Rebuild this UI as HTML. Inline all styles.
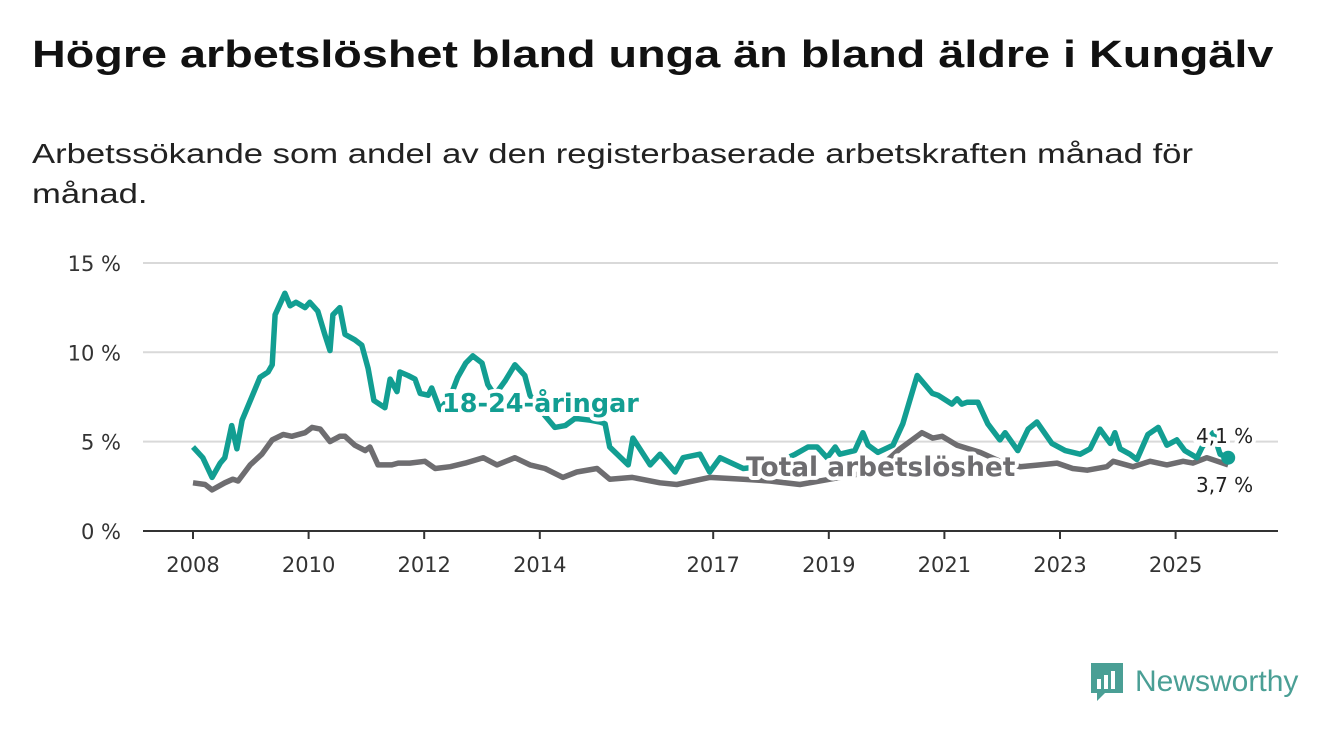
<!DOCTYPE html>
<html><head><meta charset="utf-8"><style>
body{margin:0;background:#fff;width:1340px;height:734px;overflow:hidden;font-family:"Liberation Sans",sans-serif}
#t{position:absolute;left:32px;top:34px;font-size:38px;font-weight:bold;color:#111;margin:0;white-space:nowrap;transform:scaleX(1.23);transform-origin:0 0}
#s{position:absolute;left:32px;top:134px;font-size:28px;color:#222;line-height:40px;white-space:nowrap;transform:scaleX(1.237);transform-origin:0 0}
</style></head><body>
<h1 id="t">Högre arbetslöshet bland unga än bland äldre i Kungälv</h1>
<div id="s">Arbetssökande som andel av den registerbaserade arbetskraften månad för<br>månad.</div>
<svg id="c" width="1340" height="734" style="position:absolute;left:0;top:0"></svg>
<script>
const yTicks=[0,5,10,15];
const xTickYears=[2008,2010,2012,2014,2017,2019,2021,2023,2025];
const youthYears=[0,.17,.33,.47,.55,.67,.76,.85,1.07,1.16,1.30,1.37,1.42,1.59,1.68,1.78,1.94,2.02,2.16,2.28,2.37,2.42,2.54,2.63,2.80,2.92,3.03,3.13,3.32,3.41,3.53,3.58,3.72,3.84,3.93,4.07,4.13,4.27,4.45,4.58,4.72,4.84,5.00,5.10,5.22,5.40,5.57,5.74,5.83,6.00,6.26,6.44,6.61,6.87,7.04,7.13,7.21,7.53,7.61,7.91,8.08,8.34,8.48,8.77,8.94,9.12,9.52,9.81,10.16,10.42,10.64,10.80,10.97,11.11,11.19,11.45,11.59,11.68,11.85,12.11,12.28,12.53,12.79,12.89,13.13,13.22,13.30,13.39,13.58,13.75,13.96,14.05,14.27,14.45,14.60,14.86,15.09,15.35,15.52,15.69,15.87,15.95,16.04,16.21,16.33,16.52,16.70,16.85,17.02,17.16,17.37,17.46,17.65,17.77,17.91];
const youthValues=[4.7,4.1,3.0,3.8,4.1,5.9,4.6,6.2,7.9,8.6,8.9,9.3,12.1,13.3,12.6,12.8,12.5,12.8,12.3,11.0,10.1,12.1,12.5,11.0,10.7,10.4,9.1,7.3,6.9,8.5,7.8,8.9,8.7,8.5,7.7,7.6,8.0,6.8,7.5,8.6,9.4,9.8,9.4,8.2,7.6,8.4,9.3,8.7,7.6,6.8,5.8,5.9,6.3,6.2,6.1,6.0,4.7,3.7,5.2,3.7,4.3,3.3,4.1,4.3,3.3,4.1,3.5,3.6,3.9,4.3,4.7,4.7,4.1,4.7,4.3,4.5,5.5,4.8,4.4,4.8,6.0,8.7,7.7,7.6,7.1,7.4,7.1,7.2,7.2,6.0,5.1,5.5,4.5,5.7,6.1,4.9,4.5,4.3,4.6,5.7,4.9,5.5,4.6,4.3,4.0,5.4,5.8,4.8,5.1,4.5,4.1,4.7,5.5,4.3,4.1];
const totalYears=[0,.21,.33,.55,.69,.78,.99,1.19,1.37,1.56,1.71,1.94,2.06,2.20,2.37,2.54,2.63,2.80,2.98,3.06,3.20,3.44,3.55,3.75,4.01,4.19,4.45,4.71,5.02,5.26,5.57,5.83,6.09,6.40,6.64,6.99,7.21,7.60,8.08,8.37,8.94,9.52,9.98,10.50,11.02,11.54,11.89,12.23,12.61,12.80,12.96,13.22,13.62,13.96,14.31,14.65,14.95,15.22,15.47,15.81,15.92,16.26,16.56,16.85,17.13,17.30,17.54,17.91];
const totalValues=[2.7,2.6,2.3,2.7,2.9,2.8,3.7,4.3,5.1,5.4,5.3,5.5,5.8,5.7,5.0,5.3,5.3,4.8,4.5,4.7,3.7,3.7,3.8,3.8,3.9,3.5,3.6,3.8,4.1,3.7,4.1,3.7,3.5,3.0,3.3,3.5,2.9,3.0,2.7,2.6,3.0,2.9,2.8,2.6,2.9,3.2,3.6,4.6,5.5,5.2,5.3,4.8,4.4,3.9,3.6,3.7,3.8,3.5,3.4,3.6,3.9,3.6,3.9,3.7,3.9,3.8,4.1,3.7];
const NS='http://www.w3.org/2000/svg';
const svg=document.getElementById('c');
const X=o=>193+o*57.8, Y=v=>531-v*17.87;
const TF='"DejaVu Sans", sans-serif';
function el(tag,attrs,parent){const e=document.createElementNS(NS,tag);for(const k in attrs)e.setAttribute(k,attrs[k]);(parent||svg).appendChild(e);return e;}
yTicks.forEach(v=>{
  if(v>0){const g=el('line',{x1:143,x2:1278,y1:Y(v),y2:Y(v),stroke:'#d9d9d9','stroke-width':2});
  
  }
  const t=el('text',{x:121,y:Y(v)+8,'text-anchor':'end','font-size':21,fill:'#333','font-family':TF});
  t.textContent=v+' %';
  
  
});
const ax=el('line',{x1:143,x2:1278,y1:531,y2:531,stroke:'#333','stroke-width':2});


xTickYears.forEach(yr=>{
  const x=X(yr-2008);
  const tk=el('line',{x1:x,x2:x,y1:531,y2:539,stroke:'#333','stroke-width':2});
  
  
  const t=el('text',{x:x,y:572,'text-anchor':'middle','font-size':21,fill:'#333','font-family':TF});
  t.textContent=yr;
  
  
});
function path(xs,vs){return xs.map((o,i)=>(i?'L':'M')+X(o).toFixed(1)+','+Y(vs[i]).toFixed(1)).join('');}
const tl=el('path',{d:path(totalYears,totalValues),fill:'none',stroke:'#6e6d70','stroke-width':5.5,'stroke-linejoin':'round'});


const yl=el('path',{d:path(youthYears,youthValues),fill:'none',stroke:'#129e92','stroke-width':5.5,'stroke-linejoin':'round'});


const li=youthYears.length-1;
const dot=el('circle',{cx:X(youthYears[li]),cy:Y(youthValues[li]),r:7,fill:'#129e92'});


function label(txt,x,y,size,fill,bold,name,fam){
  const t=el('text',{x:x,y:y,'font-size':size,fill:fill,'font-weight':bold?'bold':'normal',stroke:'#fff','stroke-width':8,'paint-order':'stroke','stroke-linejoin':'round'});
  if(fam)t.setAttribute('font-family',fam);
  t.textContent=txt;
  
  
}
label('18-24-åringar',442,412,25.5,'#129e92',true,'youth-series-label',TF);
label('Total arbetslöshet',746,476,26.4,'#6e6d70',true,'total-series-label',TF);
label('4,1 %',1196,443,20,'#222',false,'youth-end-value',TF);
label('3,7 %',1196,492,20,'#222',false,'total-end-value',TF);
</script>
<div style="position:absolute;left:1089px;top:661px;display:flex;align-items:center">
<svg width="36" height="42"><path d="M2 2h32v30H16l-8 8v-8H2z" fill="#4a9f95"/><rect x="8" y="18" width="4" height="10" fill="#fff"/><rect x="15" y="14" width="4" height="14" fill="#fff"/><rect x="22" y="10" width="4" height="18" fill="#fff"/></svg>
<span style="font-size:30px;color:#4a9f95;margin-left:10px">Newsworthy</span>
</div>
</body></html>
